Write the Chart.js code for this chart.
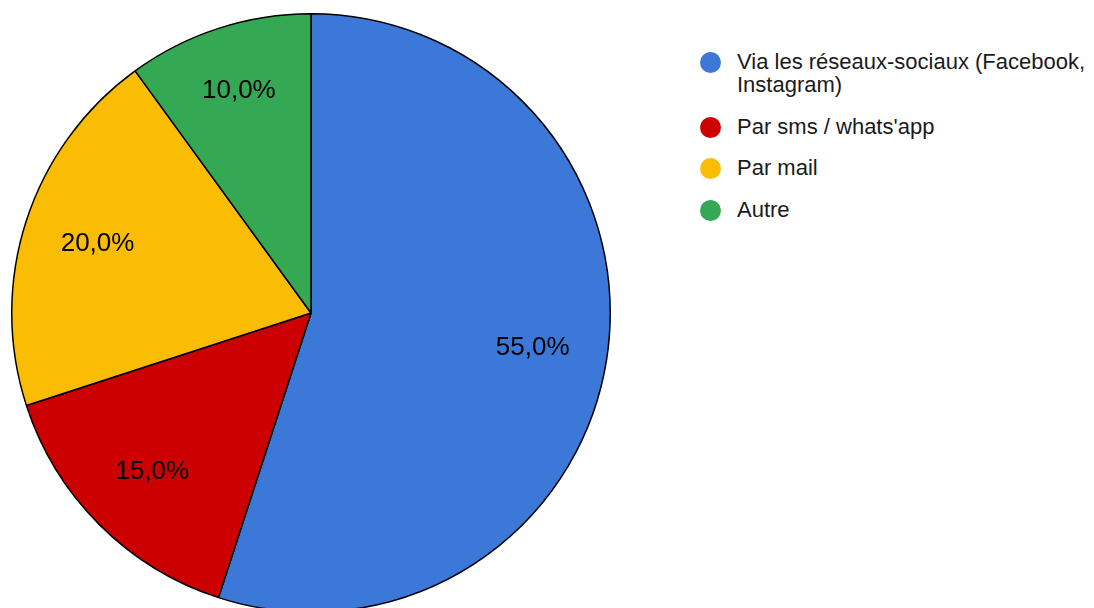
<!DOCTYPE html>
<html>
<head>
<meta charset="utf-8">
<script src="https://cdn.jsdelivr.net/npm/chart.js@4/dist/chart.umd.min.js"></script>
<style>
    html, body {
        margin: 0;
        padding: 0;
        width: 1094px;
        height: 608px;
        overflow: hidden;
        background: #fff;
        font-family: "Liberation Sans", Arial, sans-serif;
    }
    #pieBox {
        position: absolute;
        left: 11px;
        top: 13px;
        width: 600px;
        height: 600px;
    }
    #legend {
        position: absolute;
        left: 699px;
        top: 50px;
        margin: 0;
        padding: 0;
        list-style: none;
        font-size: 22px;
        line-height: 23px;
        color: #1a1a1a;
    }
    #legend li {
        position: relative;
        padding-left: 38px;
        width: 357px;
        margin-bottom: 18.5px;
    }
    #legend li span.dot {
        position: absolute;
        left: 1px;
        top: 2px;
        width: 21px;
        height: 21px;
        border-radius: 50%;
    }
</style>
</head>
<body>
<div id="pieBox"><canvas id="chart"></canvas></div>
<ul id="legend"></ul>

<script>
var labels = ["Via les réseaux-sociaux (Facebook, Instagram)", "Par sms / whats'app", "Par mail", "Autre"];
var values = [55, 15, 20, 10];
var colors = ["#3c78d8", "#cc0000", "#fbbc04", "#34a853"];

// writes the percentage inside each slice, about 3/4 of the way out
var sliceLabels = {
    id: 'sliceLabels',
    afterDatasetsDraw: function (chart) {
        var ctx = chart.ctx;
        var meta = chart.getDatasetMeta(0);
        ctx.save();
        ctx.font = '26px "Liberation Sans", Arial, sans-serif';
        ctx.fillStyle = '#000';
        ctx.textAlign = 'center';
        ctx.textBaseline = 'middle';
        meta.data.forEach(function (arc, i) {
            var p = arc.getProps(['x', 'y', 'startAngle', 'endAngle', 'outerRadius'], true);
            var mid = (p.startAngle + p.endAngle) / 2;
            // narrow slices get their label pushed a little further out
            var r = p.outerRadius * (values[i] <= 10 ? 0.78 : 0.75);
            var text = values[i].toFixed(1).replace('.', ',') + '%';
            ctx.fillText(text, p.x + Math.cos(mid) * r, p.y + Math.sin(mid) * r);
        });
        ctx.restore();
    }
};

new Chart(document.getElementById('chart').getContext('2d'), {
    type: 'pie',
    data: {
        labels: labels,
        datasets: [{
            data: values,
            backgroundColor: colors,
            borderColor: '#000',
            borderWidth: 1.5
        }]
    },
    options: {
        responsive: true,
        maintainAspectRatio: false,
        animation: false,
        layout: { padding: 0 },
        plugins: {
            legend: { display: false },
            tooltip: { enabled: false }
        }
    },
    plugins: [sliceLabels]
});

var legend = document.getElementById('legend');
labels.forEach(function (name, i) {
    var li = document.createElement('li');
    var dot = document.createElement('span');
    dot.className = 'dot';
    dot.style.background = colors[i];
    li.appendChild(dot);
    li.appendChild(document.createTextNode(name));
    legend.appendChild(li);
});
</script>
</body>
</html>
